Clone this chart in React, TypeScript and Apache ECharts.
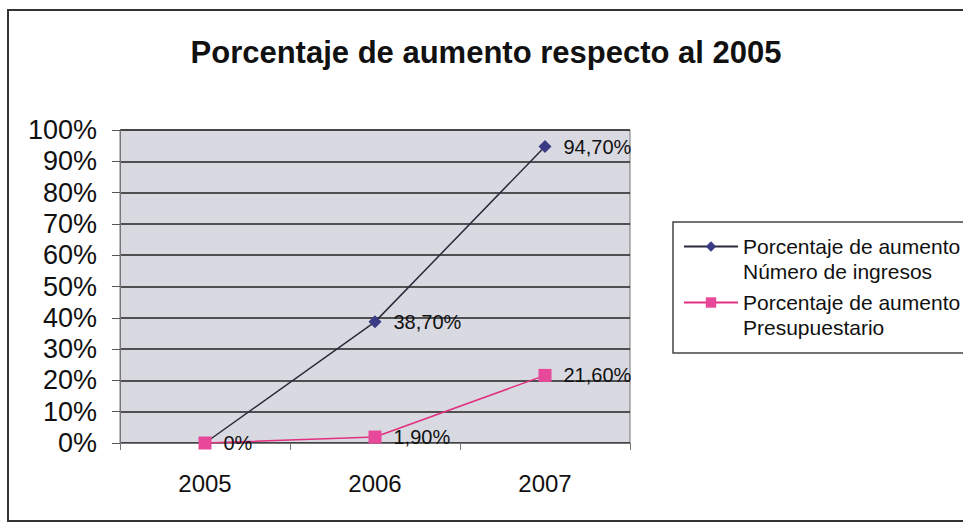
import React, { useEffect, useRef } from "react";
import * as echarts from "echarts";

const categories = ["2005", "2006", "2007"];
const ingresos = [0, 0.387, 0.947];
const presupuesto = [0, 0.019, 0.216];
const ingresosLabels = ["", "38,70%", "94,70%"];
const presupuestoLabels = ["0%", "1,90%", "21,60%"];
const seriesNames = [
  "Porcentaje de aumento\nNúmero de ingresos",
  "Porcentaje de aumento\nPresupuestario",
];
const titleText = "Porcentaje de aumento respecto al 2005";

export default function App() {
  const ref = useRef<HTMLDivElement>(null);
  useEffect(() => {
    const chart = echarts.init(ref.current!, undefined, { renderer: "svg" });
    const font = "Liberation Sans, Arial, sans-serif";
    chart.setOption({
      animation: false,
      backgroundColor: "#ffffff",
      textStyle: { fontFamily: font },
      title: {
        text: titleText,
        left: 481,
        textAlign: "center",
        top: 32,
        textStyle: { fontSize: 31, fontWeight: "bold", color: "#111", fontFamily: font },
      },
      graphic: [
        {
          type: "rect",
          shape: { x: 8, y: 10, width: 1000, height: 511 },
          style: { fill: "none", stroke: "#333", lineWidth: 2 },
          silent: true,
        },
        {
          type: "rect",
          shape: { x: 673, y: 222, width: 400, height: 131 },
          style: { fill: "none", stroke: "#444", lineWidth: 1.5 },
          silent: true,
        },
      ],
      legend: {
        orient: "vertical",
        left: 683,
        top: 209,
        padding: 0,
        itemWidth: 54,
        itemHeight: 13,
        itemGap: -19,
        formatter: (name: string) => "\n" + name,
        textStyle: {
          fontSize: 21,
          lineHeight: 25,
          color: "#111",
          fontFamily: font,
        },
        data: seriesNames,
      },
      grid: {
        left: 120,
        top: 130,
        width: 510,
        height: 313,
        show: true,
        backgroundColor: "#d9d9e1",
        borderColor: "#777",
        borderWidth: 1,
      },
      xAxis: {
        type: "category",
        data: categories,
        boundaryGap: true,
        axisLine: { show: true, lineStyle: { color: "#777", width: 1 } },
        axisTick: { show: true, length: 7, lineStyle: { color: "#777" } },
        axisLabel: { fontSize: 24, color: "#111", margin: 28, fontFamily: font },
      },
      yAxis: {
        type: "value",
        min: 0,
        max: 1,
        interval: 0.1,
        axisLine: { show: true, lineStyle: { color: "#777", width: 1 } },
        axisTick: { show: true, length: 8, lineStyle: { color: "#555" } },
        axisLabel: {
          fontSize: 27,
          color: "#111",
          margin: 23,
          fontFamily: font,
          formatter: (v: number) => Math.round(v * 100) + "%",
        },
        splitLine: { show: true, lineStyle: { color: "#222", width: 1.5 } },
      },
      series: [
        {
          name: seriesNames[0],
          type: "line",
          data: ingresos,
          symbol: "diamond",
          symbolSize: 13,
          lineStyle: { color: "#2a2a3a", width: 1.5 },
          itemStyle: { color: "#3a3a85" },
          label: {
            show: true,
            position: "right",
            distance: 12,
            fontSize: 20,
            color: "#111",
            fontFamily: font,
            formatter: (p: any) => ingresosLabels[p.dataIndex],
          },
          z: 3,
        },
        {
          name: seriesNames[1],
          type: "line",
          data: presupuesto,
          symbol: "rect",
          symbolSize: 13,
          lineStyle: { color: "#e0307f", width: 1.5 },
          itemStyle: { color: "#e8489a" },
          label: {
            show: true,
            position: "right",
            distance: 12,
            fontSize: 20,
            color: "#111",
            fontFamily: font,
            formatter: (p: any) => presupuestoLabels[p.dataIndex],
          },
          z: 4,
        },
      ],
    });
    return () => chart.dispose();
  }, []);
  return (
    <div
      ref={ref}
      style={{ position: "absolute", left: 0, top: 0, width: 963, height: 524 }}
    />
  );
}
